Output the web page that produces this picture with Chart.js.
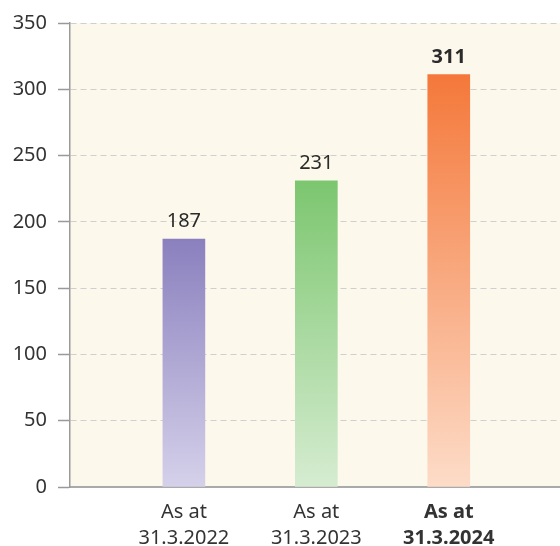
<!DOCTYPE html>
<html>
<head>
<meta charset="utf-8">
<script src="https://cdn.jsdelivr.net/npm/chart.js@4"></script>
<style>
html,body{margin:0;padding:0;background:#fff;}
#wrap{width:560px;height:546px;}
</style>
</head>
<body>
<div id="wrap"><canvas id="c" width="560" height="546"></canvas></div>
<script>
const categories = [["As at","31.3.2022"],["As at","31.3.2023"],["As at","31.3.2024"]];
const values = [187, 231, 311];
const topColors = ["#8a80be", "#7cc66f", "#f4783a"];
const bottomColors = ["#d5d1ea", "#d6ecd1", "#fddcc8"];
const yTicks = [0, 50, 100, 150, 200, 250, 300, 350];
const boldIndex = 2;

const FONT = "'Noto Sans', 'Open Sans', sans-serif";

const bgPlugin = {
  id: 'bg',
  beforeDraw(chart) {
    const {ctx, chartArea: a} = chart;
    ctx.save();
    ctx.fillStyle = '#fcf8ec';
    ctx.fillRect(a.left, a.top, a.right - a.left, a.bottom - a.top);
    ctx.restore();
  }
};

const labelPlugin = {
  id: 'vlabels',
  afterDatasetsDraw(chart) {
    const {ctx} = chart;
    const meta = chart.getDatasetMeta(0);
    ctx.save();
    ctx.fillStyle = '#2b2b2b';
    ctx.textAlign = 'center';
    ctx.textBaseline = 'alphabetic';
    meta.data.forEach((bar, i) => {
      ctx.font = (i === boldIndex ? 'bold ' : '') + '20px ' + FONT;
      ctx.fillText(String(values[i]), bar.x, bar.y - 12);
    });
    ctx.restore();
  }
};

function grad(context) {
  const chart = context.chart;
  const i = context.dataIndex;
  if (!chart.chartArea || i === undefined) return topColors[i || 0];
  const y = chart.scales.y;
  const g = chart.ctx.createLinearGradient(0, y.getPixelForValue(values[i]), 0, y.getPixelForValue(0));
  g.addColorStop(0, topColors[i]);
  g.addColorStop(1, bottomColors[i]);
  return g;
}

new Chart(document.getElementById('c'), {
  type: 'bar',
  data: {
    datasets: [{
      data: values.map((v, i) => ({x: i, y: v})),
      backgroundColor: grad,
      borderWidth: 0,
      barThickness: 42
    }]
  },
  plugins: [bgPlugin, labelPlugin],
  options: {
    responsive: false,
    animation: false,
    devicePixelRatio: 1,
    layout: {padding: {top: 23, right: 0, left: 0, bottom: 0}},
    plugins: {legend: {display: false}, tooltip: {enabled: false}},
    scales: {
      x: {
        type: 'linear',
        offset: false,
        grace: 0,
        bounds: 'data',
        min: -0.86,
        max: 2.84,
        afterBuildTicks(scale) { scale.ticks = categories.map((_, i) => ({value: i})); },
        afterFit(scale) { scale.height = 59; },
        grid: {display: false, drawTicks: false},
        border: {display: true, color: '#aaaaaa', width: 2},
        ticks: {
          autoSkip: false,
          maxRotation: 0,
          padding: 12,
          color: '#333333',
          font: (ctx) => ({family: FONT, size: 20, lineHeight: 1.3, weight: ctx.index === boldIndex ? 'bold' : 'normal'}),
          callback: (v) => categories[v]
        }
      },
      y: {
        min: 0,
        max: 350,
        afterBuildTicks(scale) { scale.ticks = yTicks.map(v => ({value: v})); },
        afterFit(scale) { scale.width = 70; },
        grid: {
          color: '#cfcfcf',
          lineWidth: 1,
          tickLength: 12,
          tickColor: '#999999',
          tickWidth: 1.5,
          tickBorderDash: []
        },
        border: {display: true, color: '#9a9a9a', width: 1.5, dash: [6, 4]},
        ticks: {
          padding: 11,
          color: '#333333',
          font: {family: FONT, size: 20}
        }
      }
    }
  }
});
</script>
</body>
</html>
